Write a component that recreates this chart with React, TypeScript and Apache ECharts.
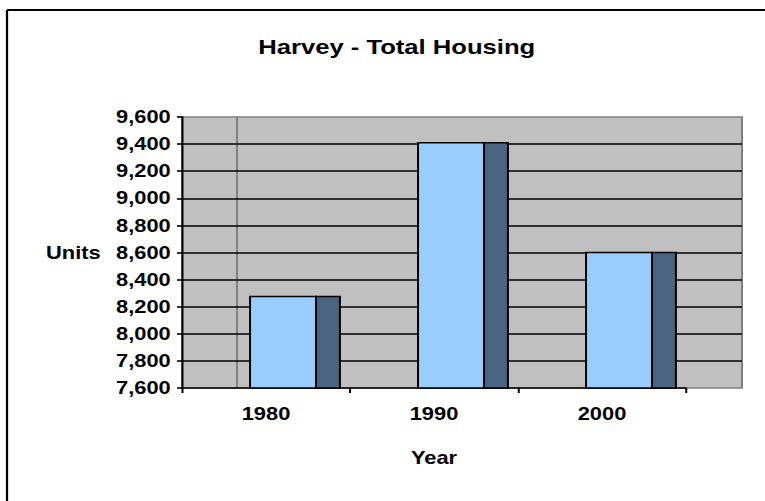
import React, { useEffect, useRef } from "react";
import * as echarts from "echarts";

const categories = ["1980", "1990", "2000"];
const housingUnits = [8275, 9410, 8600];
const yMin = 7600;
const yMax = 9600;
const yStep = 200;
const titleText = "Harvey - Total Housing";
const yAxisName = "Units";
const xAxisName = "Year";

const STRETCH = 1.25;
const W = 765 / STRETCH;
const H = 501;

export default function App() {
  const ref = useRef<HTMLDivElement>(null);
  useEffect(() => {
    document.body.style.margin = "0";
    const chart = echarts.init(ref.current!, null, { renderer: "svg" });
    const font = "'Liberation Sans', Arial, Helvetica, sans-serif";
    const lbl = { fontFamily: font, fontWeight: "bold" as const, fontSize: 17.5, color: "#000" };
    const gridLeft = 182 / STRETCH;
    const wallRight = W - 742 / STRETCH;
    const catRight = W - 686 / STRETCH;
    chart.setOption({
      animation: false,
      backgroundColor: "#ffffff",
      title: {
        text: titleText,
        left: 252 / STRETCH,
        top: 31,
        textStyle: { fontFamily: font, fontWeight: "bold", fontSize: 20.5, color: "#000" },
      },
      grid: [
        {
          left: gridLeft,
          right: wallRight,
          top: 117,
          bottom: 113,
          show: true,
          backgroundColor: "#c0c0c0",
          borderColor: "#808080",
          borderWidth: 1.6,
        },
        { left: gridLeft, right: catRight, top: 117, bottom: 113 },
      ],
      xAxis: [
        { type: "category", gridIndex: 0, data: categories, show: false },
        {
          type: "category",
          gridIndex: 1,
          data: categories,
          boundaryGap: true,
          axisLine: { show: true, lineStyle: { color: "#000", width: 1.6 } },
          axisTick: { show: true, length: 5, lineStyle: { color: "#000", width: 1.6 } },
          axisLabel: { ...lbl, margin: 17 },
          name: xAxisName,
          nameLocation: "middle",
          nameGap: 61,
          nameTextStyle: lbl,
          splitLine: { show: false },
          z: 5,
        },
      ],
      yAxis: [
        {
          type: "value",
          gridIndex: 0,
          min: yMin,
          max: yMax,
          interval: yStep,
          axisLine: { show: true, lineStyle: { color: "#000", width: 1.6 } },
          axisTick: { show: true, length: 4, lineStyle: { color: "#000", width: 1.6 } },
          axisLabel: {
            ...lbl,
            margin: 9,
            formatter: (v: number) => v.toLocaleString("en-US"),
          },
          splitLine: {
            show: true,
            showMinLine: false,
            showMaxLine: false,
            lineStyle: { color: "#000", width: 1.6 },
          },
          name: yAxisName,
          nameLocation: "middle",
          nameRotate: 0,
          nameGap: 65,
          nameTextStyle: { ...lbl, padding: [6, 0, 0, 0] },
          z: 4,
        },
        { type: "value", gridIndex: 1, min: yMin, max: yMax, interval: yStep, show: false },
      ],
      graphic: [
        {
          type: "line",
          z: 1,
          shape: { x1: 237 / STRETCH, y1: 117, x2: 237 / STRETCH, y2: 388 },
          style: { stroke: "#808080", lineWidth: 1.6 },
        },
        {
          type: "line",
          shape: { x1: 7 / STRETCH, y1: 10, x2: W, y2: 10 },
          style: { stroke: "#000", lineWidth: 2.2 },
        },
        {
          type: "line",
          shape: { x1: 7 / STRETCH, y1: 10, x2: 7 / STRETCH, y2: H },
          style: { stroke: "#000", lineWidth: 1.8 },
        },
      ],
      series: [
        {
          type: "custom",
          xAxisIndex: 1,
          yAxisIndex: 1,
          z: 10,
          data: categories.map((c, i) => [i, housingUnits[i]]),
          renderItem: (params: any, api: any) => {
            const idx = api.value(0);
            const v = api.value(1);
            const top = api.coord([idx, v]);
            const base = api.coord([idx, yMin]);
            const bw = api.size([1, 0])[0];
            const x0 = top[0] - 0.095 * bw;
            const x1 = top[0] + 0.298 * bw;
            const x2 = top[0] + 0.44 * bw;
            return {
              type: "group",
              children: [
                {
                  type: "rect",
                  shape: { x: x0, y: top[1], width: x1 - x0, height: base[1] - top[1] },
                  style: { fill: "#99ccff", stroke: "#000", lineWidth: 1.6 },
                },
                {
                  type: "rect",
                  shape: { x: x1, y: top[1], width: x2 - x1, height: base[1] - top[1] },
                  style: { fill: "#4a6581", stroke: "#000", lineWidth: 1.6 },
                },
              ],
            };
          },
        },
      ],
    });
    return () => chart.dispose();
  }, []);
  return (
    <div
      ref={ref}
      style={{ width: W, height: H, transform: `scaleX(${STRETCH})`, transformOrigin: "0 0" }}
    />
  );
}
